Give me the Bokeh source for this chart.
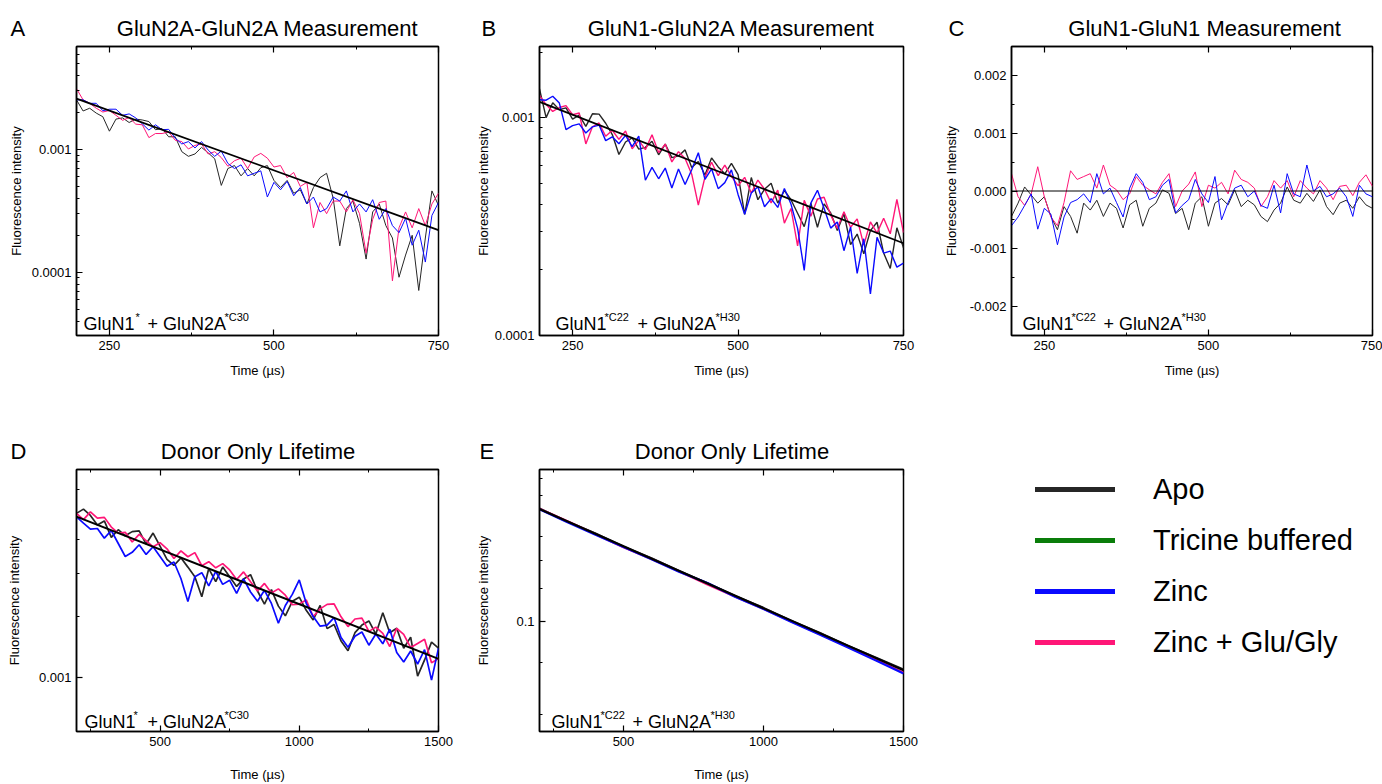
from bokeh.plotting import figure
from bokeh.layouts import row, column
from bokeh.models import (Range1d, FixedTicker, LinearAxis, Label, Legend, LegendItem,
                          CustomJSTickFormatter, NumeralTickFormatter)
from bokeh.embed import file_html
from bokeh.resources import INLINE

FONT = "Liberation Sans"
C_APO = "#262626"
C_TRIC = "#0a7d0a"
C_ZINC = "#0a0aff"
C_GLU = "#ff1677"
C_FIT = "#000000"
NB = "\u00a0"

# ---------------- data ----------------
t_short = list(range(200, 751, 10))     # time (us), panels A-C
t_long = list(range(200, 1501, 25))     # time (us), panel D
t_e = list(range(200, 1501, 100))       # time (us), panel E

# Panel A: GluN2A-GluN2A
A_apo = [2.54e-3, 2.06e-3, 2.17e-3, 1.98e-3, 1.85e-3, 1.41e-3, 1.77e-3, 1.81e-3, 1.66e-3, 1.77e-3,
         1.74e-3, 1.69e-3, 1.45e-3, 1.48e-3, 1.27e-3, 1.27e-3, 9.6e-4, 8.8e-4, 9.2e-4, 1.04e-3,
         9.4e-4, 8.4e-4, 5.1e-4, 7.0e-4, 7.4e-4, 6.1e-4, 7.0e-4, 6.1e-4, 7.1e-4, 7.4e-4,
         5.6e-4, 4.9e-4, 5.6e-4, 4.4e-4, 4.7e-4, 3.6e-4, 4.9e-4, 5.9e-4, 6.4e-4, 4.0e-4,
         1.64e-4, 3.3e-4, 3.8e-4, 2.5e-4, 1.28e-4, 3.1e-4, 3.6e-4, 2.4e-4, 1.9e-4, 9.1e-5,
         1.38e-4, 2.0e-4, 7.1e-5, 1.9e-4, 4.6e-4, 3.5e-4]
A_zinc = [2.54e-3, 2.54e-3, 2.38e-3, 2.38e-3, 2.07e-3, 2.13e-3, 2.13e-3, 1.90e-3, 1.95e-3, 1.81e-3,
          1.62e-3, 1.44e-3, 1.59e-3, 1.45e-3, 1.46e-3, 1.24e-3, 1.11e-3, 1.16e-3, 1.03e-3, 1.16e-3,
          9.9e-4, 8.8e-4, 9.7e-4, 7.7e-4, 7.0e-4, 7.5e-4, 6.1e-4, 6.4e-4, 6.7e-4, 4.1e-4,
          5.4e-4, 4.7e-4, 5.5e-4, 4.2e-4, 4.9e-4, 3.6e-4, 4.1e-4, 3.1e-4, 3.3e-4, 4.1e-4,
          3.8e-4, 4.6e-4, 3.1e-4, 3.6e-4, 3.1e-4, 3.9e-4, 2.7e-4, 3.3e-4, 2.4e-4, 2.1e-4,
          2.75e-4, 1.66e-4, 2.2e-4, 1.21e-4, 2.9e-4, 3.7e-4]
A_glu = [3.13e-3, 2.54e-3, 2.38e-3, 2.17e-3, 2.02e-3, 2.08e-3, 1.90e-3, 1.73e-3, 1.82e-3, 1.61e-3,
         1.59e-3, 1.25e-3, 1.35e-3, 1.35e-3, 1.39e-3, 1.19e-3, 1.16e-3, 1.01e-3, 1.08e-3, 1.11e-3,
         9.2e-4, 9.6e-4, 8.6e-4, 7.3e-4, 8.1e-4, 8.5e-4, 7.0e-4, 8.7e-4, 9.3e-4, 8.5e-4,
         7.2e-4, 7.4e-4, 5.9e-4, 6.5e-4, 5.0e-4, 5.4e-4, 2.3e-4, 3.7e-4, 3.0e-4, 3.8e-4,
         3.8e-4, 3.1e-4, 3.9e-4, 3.0e-4, 1.43e-4, 2.7e-4, 3.7e-4, 3.8e-4, 8.5e-5, 2.3e-4,
         3.1e-4, 2.3e-4, 3.3e-4, 2.4e-4, 3.6e-4, 4.4e-4]
A_fit_t = [200, 750]
A_fit = [2.60e-3, 2.20e-4]

# Panel B: GluN1-GluN2A
B_apo = [1.355e-3, 1.000e-3, 1.170e-3, 1.088e-3, 1.109e-3, 9.85e-4, 1.026e-3, 9.11e-4, 1.041e-3, 1.037e-3,
         9.42e-4, 8.36e-4, 6.77e-4, 7.73e-4, 8.07e-4, 7.17e-4, 7.30e-4, 7.79e-4, 6.75e-4, 7.56e-4,
         6.55e-4, 6.67e-4, 7.11e-4, 5.90e-4, 6.29e-4, 5.45e-4, 6.53e-4, 5.94e-4, 5.52e-4, 6.16e-4,
         5.47e-4, 3.60e-4, 5.31e-4, 4.20e-4, 4.69e-4, 5.00e-4, 4.05e-4, 4.63e-4, 4.20e-4, 3.64e-4,
         3.16e-4, 4.05e-4, 3.14e-4, 4.02e-4, 3.65e-4, 3.03e-4, 3.62e-4, 2.61e-4, 2.92e-4, 2.37e-4,
         3.03e-4, 3.31e-4, 2.39e-4, 2.03e-4, 3.12e-4, 2.53e-4]
B_zinc = [1.207e-3, 1.202e-3, 1.253e-3, 1.166e-3, 8.81e-4, 9.19e-4, 9.36e-4, 8.50e-4, 9.07e-4, 9.24e-4,
          7.84e-4, 8.16e-4, 7.59e-4, 8.29e-4, 7.36e-4, 8.23e-4, 5.16e-4, 5.91e-4, 5.24e-4, 5.87e-4,
          4.75e-4, 5.81e-4, 4.93e-4, 5.76e-4, 6.90e-4, 5.21e-4, 5.82e-4, 4.72e-4, 5.03e-4, 5.76e-4,
          4.44e-4, 3.60e-4, 4.51e-4, 4.82e-4, 3.90e-4, 4.25e-4, 3.87e-4, 4.73e-4, 4.01e-4, 3.10e-4,
          1.99e-4, 4.05e-4, 4.64e-4, 3.84e-4, 3.11e-4, 3.32e-4, 2.45e-4, 3.14e-4, 1.93e-4, 2.78e-4,
          1.55e-4, 2.82e-4, 2.39e-4, 2.44e-4, 2.06e-4, 2.15e-4]
B_glu = [1.265e-3, 1.148e-3, 1.067e-3, 1.113e-3, 1.135e-3, 1.031e-3, 1.050e-3, 7.57e-4, 9.07e-4, 9.45e-4,
         8.21e-4, 8.75e-4, 7.95e-4, 8.68e-4, 7.19e-4, 7.86e-4, 7.13e-4, 8.35e-4, 6.91e-4, 7.56e-4,
         6.26e-4, 6.98e-4, 6.49e-4, 5.50e-4, 3.97e-4, 5.33e-4, 6.24e-4, 5.41e-4, 6.05e-4, 5.37e-4,
         4.87e-4, 5.32e-4, 4.51e-4, 5.17e-4, 4.69e-4, 4.06e-4, 4.65e-4, 3.28e-4, 3.83e-4, 2.58e-4,
         4.17e-4, 3.53e-4, 4.23e-4, 4.31e-4, 3.57e-4, 3.10e-4, 3.70e-4, 3.14e-4, 3.43e-4, 2.60e-4,
         3.32e-4, 2.95e-4, 3.45e-4, 2.93e-4, 4.21e-4, 2.97e-4]
B_fit_t = [200, 750]
B_fit = [1.18e-3, 2.65e-4]

# Panel C: GluN1-GluN1
C_apo = [-4.4e-4, -2.1e-4, 0.7e-4, -0.7e-4, -2.1e-4, -1.0e-4, -4.4e-4, -6.7e-4, -2.7e-4, -4.4e-4,
         -7.3e-4, -2.1e-4, -3.3e-4, -1.6e-4, -4.4e-4, -2.1e-4, -3.0e-4, -6.4e-4, -2.4e-4, -1.6e-4,
         -6.1e-4, -3.0e-4, -2.1e-4, 0.2e-4, -0.4e-4, -3.9e-4, -3.0e-4, -6.7e-4, -2.1e-4, -1.0e-4,
         -6.1e-4, -2.1e-4, -1.3e-4, -2.4e-4, 0.2e-4, -2.7e-4, -1.6e-4, -2.4e-4, -4.4e-4, -5.3e-4,
         -3.3e-4, -2.1e-4, 0.7e-4, -1.6e-4, -2.1e-4, -0.4e-4, -1.8e-4, 0.2e-4, -2.7e-4, -4.1e-4,
         -2.1e-4, -1.6e-4, -3.0e-4, -1.0e-4, -2.4e-4, -3.0e-4]
C_zinc = [-6.0e-4, -4.5e-4, -2.5e-4, -0.5e-4, -6.6e-4, -3.0e-4, -4.0e-4, -9.3e-4, -4.5e-4, -2.0e-4,
          -1.5e-4, -0.5e-4, -2.0e-4, 3.0e-4, -0.5e-4, 0.5e-4, -2.0e-4, -4.5e-4, 0.5e-4, 3.0e-4,
          1.5e-4, -1.5e-4, -1.0e-4, 1.0e-4, 2.0e-4, -3.8e-4, -2.5e-4, -1.5e-4, 2.0e-4, -0.5e-4,
          -2.0e-4, 2.5e-4, -5.0e-4, -2.0e-4, 0.5e-4, 1.0e-4, -1.0e-4, 0.0, -2.5e-4, -3.0e-4,
          1.0e-4, -3.8e-4, 3.0e-4, -0.5e-4, -1.0e-4, 4.5e-4, 0.0, 0.8e-4, -1.0e-4, -0.5e-4,
          0.5e-4, -1.0e-4, -4.4e-4, 1.0e-4, -0.5e-4, -1.0e-4]
C_glu = [3.0e-4, -1.0e-4, -2.5e-4, -0.5e-4, 4.2e-4, -1.0e-4, -4.5e-4, -6.0e-4, -2.0e-4, 3.5e-4,
         2.0e-4, 2.5e-4, 3.0e-4, 0.5e-4, 4.5e-4, 1.0e-4, 0.2e-4, -1.5e-4, -0.5e-4, 2.5e-4,
         1.0e-4, 0.2e-4, -0.5e-4, 1.5e-4, 3.0e-4, -2.7e-4, 0.0, 1.2e-4, 3.3e-4, -2.7e-4,
         1.0e-4, 0.5e-4, 1.5e-4, -0.5e-4, 3.6e-4, 2.0e-4, 1.5e-4, 0.5e-4, -2.7e-4, -1.0e-4,
         1.8e-4, 0.5e-4, 1.8e-4, -1.0e-4, 1.8e-4, 0.5e-4, -0.5e-4, 1.8e-4, 0.5e-4, -1.5e-4,
         0.8e-4, 1.0e-4, -0.8e-4, 1.5e-4, 2.8e-4, 0.8e-4]
C_fit_t = [200, 750]
C_fit = [0.0, 0.0]

# Panel D: donor only (GluN1* + GluN2A*C30)
D_apo = [2.985e-3, 3.070e-3, 2.944e-3, 2.761e-3, 2.838e-3, 2.542e-3, 2.676e-3, 2.570e-3, 2.642e-3, 2.655e-3,
         2.432e-3, 2.617e-3, 2.398e-3, 2.197e-3, 2.108e-3, 2.218e-3, 2.085e-3, 1.954e-3, 1.711e-3, 2.065e-3,
         1.892e-3, 2.085e-3, 1.954e-3, 1.833e-3, 1.927e-3, 1.982e-3, 1.778e-3, 1.629e-3, 1.794e-3, 1.607e-3,
         1.506e-3, 1.660e-3, 1.706e-3, 1.563e-3, 1.465e-3, 1.614e-3, 1.383e-3, 1.422e-3, 1.273e-3, 1.194e-3,
         1.346e-3, 1.416e-3, 1.456e-3, 1.334e-3, 1.538e-3, 1.345e-3, 1.386e-3, 1.213e-3, 1.307e-3, 1.007e-3,
         1.122e-3, 1.264e-3, 1.214e-3]
D_zinc = [2.917e-3, 2.798e-3, 2.686e-3, 2.698e-3, 2.529e-3, 2.662e-3, 2.441e-3, 2.238e-3, 2.301e-3, 2.420e-3,
          2.269e-3, 2.388e-3, 2.239e-3, 2.098e-3, 2.157e-3, 1.932e-3, 1.657e-3, 1.954e-3, 2.009e-3, 1.840e-3,
          2.028e-3, 1.858e-3, 1.909e-3, 1.750e-3, 1.927e-3, 1.766e-3, 1.660e-3, 1.786e-3, 1.636e-3, 1.433e-3,
          1.614e-3, 1.738e-3, 1.914e-3, 1.637e-3, 1.499e-3, 1.406e-3, 1.415e-3, 1.489e-3, 1.303e-3, 1.221e-3,
          1.315e-3, 1.352e-3, 1.238e-3, 1.334e-3, 1.250e-3, 1.378e-3, 1.180e-3, 1.107e-3, 1.191e-3, 1.092e-3,
          1.202e-3, 0.981e-3, 1.214e-3]
D_glu = [2.985e-3, 2.864e-3, 3.014e-3, 2.891e-3, 2.906e-3, 2.724e-3, 2.616e-3, 2.630e-3, 2.466e-3, 2.594e-3,
         2.489e-3, 2.388e-3, 2.454e-3, 2.355e-3, 2.208e-3, 2.323e-3, 2.234e-3, 2.297e-3, 2.104e-3, 2.162e-3,
         2.075e-3, 2.134e-3, 2.046e-3, 1.919e-3, 2.019e-3, 1.892e-3, 1.778e-3, 1.870e-3, 1.754e-3, 1.803e-3,
         1.729e-3, 1.622e-3, 1.629e-3, 1.675e-3, 1.499e-3, 1.578e-3, 1.626e-3, 1.632e-3, 1.496e-3, 1.402e-3,
         1.475e-3, 1.484e-3, 1.358e-3, 1.397e-3, 1.339e-3, 1.227e-3, 1.386e-3, 1.331e-3, 1.219e-3, 1.253e-3,
         1.288e-3, 1.101e-3, 1.132e-3]
D_fit_t = [200, 1500]
D_fit = [2.92e-3, 1.13e-3]

# Panel E: donor only (GluN1*C22 + GluN2A*H30)
E_apo = [0.1865, 0.1735, 0.1625, 0.1512, 0.1418, 0.1320, 0.1236, 0.1151, 0.1079, 0.1004, 0.0941, 0.0876, 0.0821, 0.0768]
E_zinc = [0.1858, 0.1730, 0.1615, 0.1510, 0.1410, 0.1315, 0.1238, 0.1145, 0.1072, 0.0998, 0.0932, 0.0869, 0.0808, 0.0752]
E_glu = [0.1862, 0.1738, 0.1620, 0.1508, 0.1412, 0.1318, 0.1228, 0.1148, 0.1074, 0.1001, 0.0935, 0.0872, 0.0812, 0.0755]
E_fit_t = [200, 1500]
E_fit = [0.186, 0.0765]

legend_names = ["Apo", "Tricine buffered", "Zinc", "Zinc + Glu/Gly"]
legend_colors = [C_APO, C_TRIC, C_ZINC, C_GLU]

x_ticks_short = [250, 500, 750]
x_minor_short = [375, 625]
x_ticks_long = [500, 1000, 1500]
x_minor_long = [250, 750, 1250]


def log_minor(lo_exp, hi_exp):
    return [m * 10.0 ** e for e in range(lo_exp, hi_exp + 1) for m in range(2, 10)]


# ---------------- helpers ----------------
def style_axis(ax):
    ax.axis_line_width = 1.5
    ax.axis_line_color = "black"
    ax.major_tick_in = 6
    ax.major_tick_out = 0
    ax.minor_tick_in = 3
    ax.minor_tick_out = 0
    ax.major_tick_line_width = 1.2
    ax.minor_tick_line_width = 1.0
    ax.major_tick_line_color = "black"
    ax.minor_tick_line_color = "black"
    ax.major_label_text_font = FONT
    ax.major_label_text_font_size = "13px"
    ax.major_label_text_color = "black"
    ax.axis_label_text_font = FONT
    ax.axis_label_text_font_size = "13px"
    ax.axis_label_text_font_style = "normal"
    ax.axis_label_text_color = "black"


def make_panel(width, height, bl, br, bt, bb, x_end, y_lo, y_hi, log_y,
               xt, xm, yt, ym, ylabel, ylabel_standoff, xlabel_standoff, heading, heading_dx):
    p = figure(width=width, height=height,
               x_range=Range1d(200, x_end), y_range=Range1d(y_lo, y_hi),
               y_axis_type="log" if log_y else "linear",
               output_backend="svg", toolbar_location=None,
               min_border_left=bl, min_border_right=br,
               min_border_top=bt, min_border_bottom=bb)
    p.title.text = heading
    p.title.align = "left"
    p.title.offset = heading_dx
    p.title.text_font = FONT
    p.title.text_font_size = "22px"
    p.title.text_font_style = "normal"
    p.title.text_color = "black"
    p.title.standoff = 12
    p.grid.visible = False
    p.outline_line_color = "black"
    p.outline_line_width = 1.5
    p.outline_line_alpha = 1.0
    p.background_fill_color = "white"
    p.border_fill_color = "white"
    p.xaxis.ticker = FixedTicker(ticks=xt, minor_ticks=xm)
    p.yaxis.ticker = FixedTicker(ticks=yt, minor_ticks=ym)
    if log_y:
        p.yaxis.formatter = CustomJSTickFormatter(code="return tick.toString()")
    else:
        p.yaxis.formatter = NumeralTickFormatter(format="0.000")
    p.xaxis.axis_label = "Time (\u00b5s)"
    p.yaxis.axis_label = ylabel
    for ax in p.axis:
        style_axis(ax)
    p.xaxis.major_label_standoff = 5
    p.yaxis.major_label_standoff = 5
    p.xaxis.axis_label_standoff = xlabel_standoff
    p.yaxis.axis_label_standoff = ylabel_standoff
    top = LinearAxis(ticker=FixedTicker(ticks=xt, minor_ticks=xm),
                     formatter=CustomJSTickFormatter(code="return ''"))
    style_axis(top)
    top.major_label_standoff = 0
    top.major_label_text_font_size = "0px"
    p.add_layout(top, "above")
    return p


def add_label(p, text, dx, dy, size):
    p.add_layout(Label(x=dx, y=dy, x_units="screen", y_units="screen", text=text,
                       text_font=FONT, text_font_size=size, text_color="black",
                       text_align="left", text_baseline="alphabetic"))


def annotate(p, pieces, base_dy):
    for text, dx, sup in pieces:
        if sup:
            add_label(p, text, dx, base_dy + 7, "11px")
        else:
            add_label(p, text, dx, base_dy, "18px")


def draw(p, t, apo, glu, zinc, fit_t, fit, lw, fit_lw):
    p.line(t, apo, line_color=C_APO, line_width=lw)
    p.line(t, glu, line_color=C_GLU, line_width=lw)
    p.line(t, zinc, line_color=C_ZINC, line_width=lw)
    p.line(fit_t, fit, line_color=C_FIT, line_width=fit_lw)


# ---------------- panels ----------------
pA = make_panel(470, 400, 76, 32, 46, 65, 750, 3.05e-5, 6.91e-3, True,
                x_ticks_short, x_minor_short, [1e-4, 1e-3],
                [v for v in log_minor(-5, -3) if 3e-5 <= v <= 7e-3],
                "Fluorescence intensity", 5, 10,
                "A" + NB * 15 + "GluN2A-GluN2A Measurement", -66)
draw(pA, t_short, A_apo, A_glu, A_zinc, A_fit_t, A_fit, 1.0, 1.8)
annotate(pA, [("GluN1", 7, False), ("*", 59, True), ("+ GluN2A", 71, False), ("*C30", 148, True)], 12)

pB = make_panel(470, 400, 69, 37, 46, 65, 750, 1.0e-4, 2.12e-3, True,
                x_ticks_short, x_minor_short, [1e-4, 1e-3],
                [v for v in log_minor(-4, -3) if v <= 2.1e-3],
                "Fluorescence intensity", 1, 10,
                "B" + NB * 15 + "GluN1-GluN2A Measurement", -58)
draw(pB, t_short, B_apo, B_glu, B_zinc, B_fit_t, B_fit, 1.4, 1.8)
annotate(pB, [("GluN1", 16, False), ("*C22", 65, True), ("+ GluN2A", 98, False), ("*H30", 176, True)], 12)

pC = make_panel(442, 400, 68, 10, 46, 65, 750, -0.0025, 0.0025, False,
                x_ticks_short, x_minor_short, [-0.002, -0.001, 0.0, 0.001, 0.002],
                [-0.0015, -0.0005, 0.0005, 0.0015],
                "Fluorescence Intensity", 8, 10,
                "C" + NB * 17 + "GluN1-GluN1 Measurement", -63)
draw(pC, t_short, C_apo, C_glu, C_zinc, C_fit_t, C_fit, 1.0, 1.0)
annotate(pC, [("GluN1", 11, False), ("*C22", 60, True), ("+ GluN2A", 92, False), ("*H30", 170, True)], 12)

pD = make_panel(470, 384, 76, 32, 40, 53, 1500, 6.96e-4, 4.0e-3, True,
                x_ticks_long, x_minor_long, [1e-3], [0.0015, 0.002, 0.0025, 0.0035],
                "Fluorescence intensity", 14, 18,
                "D" + NB * 22 + "Donor Only Lifetime", -66)
draw(pD, t_long, D_apo, D_glu, D_zinc, D_fit_t, D_fit, 1.7, 2.0)
annotate(pD, [("GluN1", 8, False), ("*", 57, True), ("+ GluN2A", 71, False), ("*C30", 148, True)], 10)

pE = make_panel(470, 384, 69, 37, 40, 53, 1500, 0.0546, 0.2313, True,
                x_ticks_long, x_minor_long, [0.1], [0.06, 0.08, 0.12, 0.14, 0.16, 0.2, 0.22],
                "Fluorescence intensity", 22, 18,
                "E" + NB * 23 + "Donor Only Lifetime", -60)
draw(pE, t_e, E_apo, E_glu, E_zinc, E_fit_t, E_fit, 2.2, 2.2)
annotate(pE, [("GluN1", 12, False), ("*C22", 61, True), ("+ GluN2A", 93, False), ("*H30", 171, True)], 10)

# ---------------- legend ----------------
pL = figure(width=442, height=384, x_range=Range1d(0, 1), y_range=Range1d(0, 1),
            x_axis_location=None, y_axis_location=None,
            output_backend="svg", toolbar_location=None,
            min_border_left=95, min_border_top=69, min_border_right=0, min_border_bottom=0)
pL.grid.visible = False
pL.outline_line_color = None
items = []
for name, col in zip(legend_names, legend_colors):
    r = pL.line(x=[float("nan")], y=[float("nan")], line_color=col, line_width=5, line_cap="round")
    items.append(LegendItem(label=name, renderers=[r]))
leg = Legend(items=items, location="top_left", glyph_width=80, glyph_height=40,
             label_height=40, spacing=11, padding=0, margin=0,
             border_line_color=None, background_fill_alpha=0.0,
             label_text_font=FONT, label_text_font_size="29px", label_text_color="black",
             label_standoff=38)
pL.add_layout(leg)

layout = column(row(pA, pB, pC, spacing=0), row(pD, pE, pL, spacing=0), spacing=0)

open("out.html", "w").write(file_html(layout, INLINE))
